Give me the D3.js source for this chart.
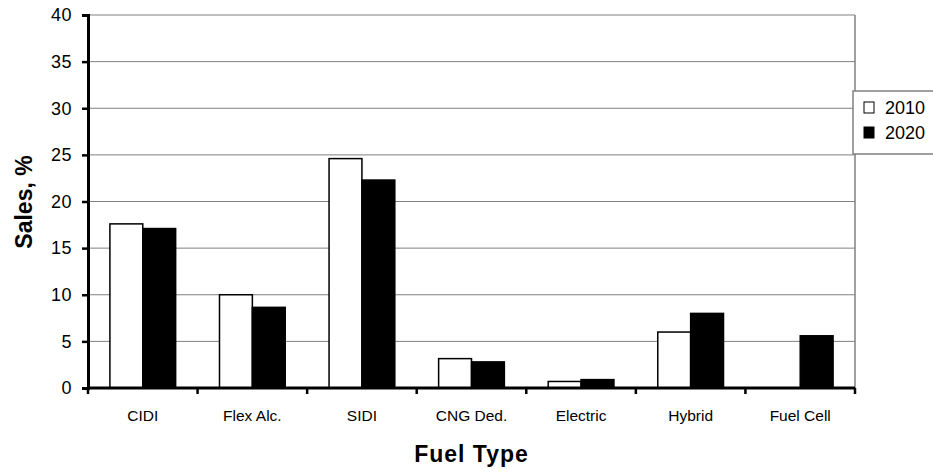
<!doctype html>
<html lang="en">
<head>
<meta charset="utf-8">
<title>Sales by fuel type</title>
<style>
  body { margin: 0; background: #fff; }
  svg { font-family: "Liberation Sans", Arial, sans-serif; }
  .grid line { stroke: #808080; stroke-width: 1; }
  .tick text { fill: #000; }
</style>
</head>
<body>
<div id="chart"></div>
<script src="https://d3js.org/d3.v7.min.js"></script>
<script>
// data
var fuelTypes = ["CIDI", "Flex Alc.", "SIDI", "CNG Ded.", "Electric", "Hybrid", "Fuel Cell"];
var years = ["2010", "2020"];
var sales2010 = [17.6, 10.0, 24.6, 3.15, 0.7, 6.0, 0];
var sales2020 = [17.1, 8.65, 22.3, 2.8, 0.9, 8.0, 5.6];
var yTicks = [0, 5, 10, 15, 20, 25, 30, 35, 40];
var yearFill = ["#fff", "#000"];

var W = 933, H = 473;
// plot area (window.top is reserved, so use other names)
var plotL = 88, plotR = 855, plotT = 15, plotB = 388;

var svg = d3.select("#chart").append("svg")
  .attr("width", W)
  .attr("height", H);

var x = d3.scaleBand()
  .domain(fuelTypes)
  .range([plotL, plotR])
  .paddingInner(0.4)
  .paddingOuter(0.2);

var xs = d3.scaleBand()
  .domain(years)
  .range([0, x.bandwidth()]);

var y = d3.scaleLinear()
  .domain([0, 40])
  .range([plotB, plotT]);

// gridlines
svg.append("g")
  .attr("class", "grid")
  .selectAll("line")
  .data(yTicks.filter(function(d) { return d > 0; }))
  .enter().append("line")
  .attr("x1", plotL)
  .attr("x2", plotR)
  .attr("y1", function(d) { return y(d); })
  .attr("y2", function(d) { return y(d); });

// right edge of plot area
svg.append("line")
  .attr("x1", plotR).attr("x2", plotR)
  .attr("y1", plotT).attr("y2", plotB)
  .attr("stroke", "#808080")
  .attr("stroke-width", 1.5);

// bars
var rows = fuelTypes.map(function(f, i) {
  return { fuel: f, values: [sales2010[i], sales2020[i]] };
});

var groups = svg.append("g")
  .selectAll("g")
  .data(rows)
  .enter().append("g")
  .attr("transform", function(d) { return "translate(" + x(d.fuel) + ",0)"; });

groups.selectAll("rect")
  .data(function(d) {
    return d.values
      .map(function(v, j) { return { year: years[j], value: v, j: j }; })
      .filter(function(d) { return d.value > 0; });
  })
  .enter().append("rect")
  .attr("x", function(d) { return xs(d.year); })
  .attr("width", xs.bandwidth())
  .attr("y", function(d) { return y(d.value); })
  .attr("height", function(d) { return plotB - y(d.value); })
  .attr("fill", function(d) { return yearFill[d.j]; })
  .attr("stroke", "#000")
  .attr("stroke-width", 1.5);

// y axis
var yAxis = svg.append("g")
  .attr("transform", "translate(" + plotL + ",0)")
  .call(d3.axisLeft(y).tickValues(yTicks).tickSize(6).tickPadding(10));
yAxis.select(".domain").attr("stroke", "#000").attr("stroke-width", 3);
yAxis.selectAll(".tick line").attr("stroke", "#000").attr("stroke-width", 2.5);
yAxis.selectAll(".tick text")
  .style("font-size", "18px")
  .style("letter-spacing", "0.5px")
  .attr("font-family", "Liberation Sans, Arial, sans-serif");

// x axis with ticks at category boundaries
var bounds = d3.range(fuelTypes.length + 1).map(function(i) {
  return plotL + i * (plotR - plotL) / fuelTypes.length;
});

svg.append("line")
  .attr("x1", plotL).attr("x2", plotR)
  .attr("y1", plotB).attr("y2", plotB)
  .attr("stroke", "#000")
  .attr("stroke-width", 3);

svg.append("g")
  .selectAll("line")
  .data(bounds)
  .enter().append("line")
  .attr("x1", function(d) { return d; })
  .attr("x2", function(d) { return d; })
  .attr("y1", plotB)
  .attr("y2", plotB + 6)
  .attr("stroke", "#000")
  .attr("stroke-width", 2.5);

svg.append("g")
  .selectAll("text")
  .data(fuelTypes)
  .enter().append("text")
  .attr("x", function(d) { return x(d) + x.bandwidth() / 2; })
  .attr("y", 421)
  .attr("text-anchor", "middle")
  .style("font-size", "15.5px")
  .text(function(d) { return d; });

// axis titles
svg.append("text")
  .attr("x", (plotL + plotR) / 2)
  .attr("y", 462)
  .attr("text-anchor", "middle")
  .style("font-size", "23px")
  .style("font-weight", "bold")
  .style("letter-spacing", "1px")
  .text("Fuel Type");

svg.append("text")
  .attr("transform", "translate(32,202) rotate(-90)")
  .attr("text-anchor", "middle")
  .style("font-size", "23px")
  .style("font-weight", "bold")
  .text("Sales, %");

// legend
var legend = svg.append("g");
legend.append("rect")
  .attr("x", 853).attr("y", 91)
  .attr("width", 90).attr("height", 63)
  .attr("fill", "#fff")
  .attr("stroke", "#808080")
  .attr("stroke-width", 1.5);

var items = legend.selectAll("g.item")
  .data(years)
  .enter().append("g")
  .attr("class", "item")
  .attr("transform", function(d, i) { return "translate(864," + (102 + i * 25) + ")"; });

items.append("rect")
  .attr("width", 10).attr("height", 11)
  .attr("fill", function(d, i) { return yearFill[i]; })
  .attr("stroke", "#000")
  .attr("stroke-width", 1);

items.append("text")
  .attr("x", 21)
  .attr("y", 12)
  .style("font-size", "18px")
  .text(function(d) { return d; });
</script>
</body>
</html>
